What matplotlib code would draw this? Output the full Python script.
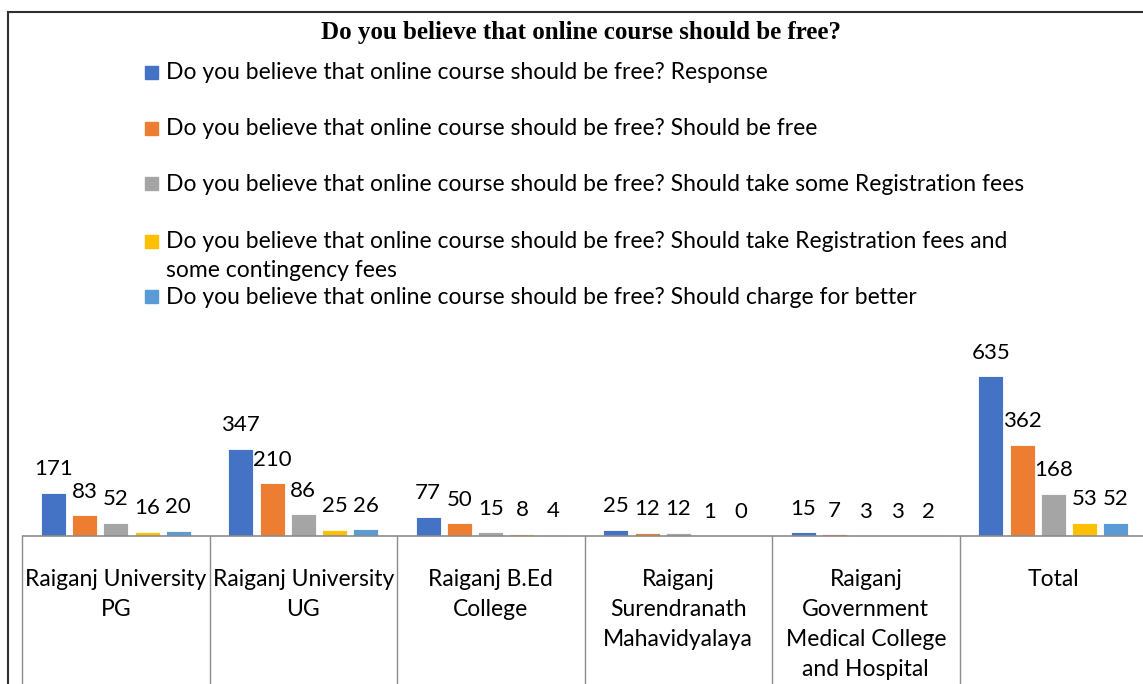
import matplotlib
matplotlib.use('Agg')
import matplotlib.pyplot as plt
import matplotlib.patches as mpatches
import matplotlib.transforms as mtransforms
import numpy as np

# Data
categories = [
    'Raiganj University\nPG',
    'Raiganj University\nUG',
    'Raiganj B.Ed\nCollege',
    'Raiganj\nSurendranath\nMahavidyalaya',
    'Raiganj\nGovernment\nMedical College\nand Hospital',
    'Total',
]
series_names = [
    'Do you believe that online course should be free? Response',
    'Do you believe that online course should be free? Should be free',
    'Do you believe that online course should be free? Should take some Registration fees',
    'Do you believe that online course should be free? Should take Registration fees and\nsome contingency fees',
    'Do you believe that online course should be free? Should charge for better',
]
response = [171, 347, 77, 25, 15, 635]
should_be_free = [83, 210, 50, 12, 7, 362]
some_reg_fees = [52, 86, 15, 12, 3, 168]
reg_and_contingency = [16, 25, 8, 1, 3, 53]
charge_for_better = [20, 26, 4, 0, 2, 52]
series = [response, should_be_free, some_reg_fees, reg_and_contingency, charge_for_better]
colors = ['#4472C4', '#ED7D31', '#A5A5A5', '#FFC000', '#5B9BD5']
title = 'Do you believe that online course should be free?'

W, H = 1143, 684
BODY_FONT = 'Lato'
FS = 16.5
LABEL_FS = 16


def fx(px):
    return px / W


def fy(py):
    return 1 - py / H


fig = plt.figure(figsize=(W / 100, H / 100), dpi=100)

# plot area: axis line at y=536, categories start at x=22, each 187.5 px wide
ax_left, ax_right = 22, 22 + 187.5 * len(categories)
ax_bottom, ax_top = 536, 336
ax = fig.add_axes([fx(ax_left), fy(ax_bottom), fx(ax_right - ax_left),
                   (ax_bottom - ax_top) / H])
ymax = (ax_bottom - ax_top) / 0.2515
ax.set_xlim(-0.5, len(categories) - 0.5)
ax.set_ylim(0, ymax)
ax.axis('off')

x = np.arange(len(categories))
bar_w = 25 / 187.5
for j, (vals, c) in enumerate(zip(series, colors)):
    xs = x + (j - 2) / 6
    ax.bar(xs, vals, width=bar_w, color=c, edgecolor='white', linewidth=0.6,
           clip_on=False)
    for xi, v in zip(xs, vals):
        ax.annotate(str(v), (xi, v), xytext=(0, 17.5), textcoords='offset pixels',
                    ha='center', va='baseline', fontsize=LABEL_FS, family=BODY_FONT,
                    color='#000000', annotation_clip=False)

# horizontal axis and category separators
ax.plot([-0.5, len(categories) - 0.5], [0, 0], color='#8c8c8c', lw=1.2,
        clip_on=False, solid_capstyle='butt')
for b in np.arange(-0.5, len(categories), 1.0):
    ax.plot([b, b], [0, -800], color='#8c8c8c', lw=1.0, clip_on=False)

# category labels, lines 30 px apart
trans = mtransforms.blended_transform_factory(ax.transData, fig.transFigure)
for i, cat in enumerate(categories):
    for k, line in enumerate(cat.split('\n')):
        ax.text(i, fy(586 + 30 * k), line, transform=trans, ha='center',
                va='baseline', fontsize=FS, family=BODY_FONT, clip_on=False)

# title
fig.text(fx(581), fy(32), title, ha='center', va='center', fontsize=18,
         fontweight='bold', family='Liberation Serif')

# legend
legend_rows = [72, 128, 184, 241, 297]
for name, c, yr in zip(series_names, colors, legend_rows):
    fig.patches.append(mpatches.Rectangle((fx(145), fy(yr + 6.5)), fx(13), 13 / H,
                                          transform=fig.transFigure, color=c))
    for k, line in enumerate(name.split('\n')):
        fig.text(fx(166), fy(yr + 7 + 29 * k), line, ha='left', va='baseline',
                 fontsize=FS, family=BODY_FONT)

# chart frame
fig.patches.append(mpatches.Rectangle((fx(8), -0.1), fx(1160), fy(12) + 0.1,
                                      transform=fig.transFigure, fill=False,
                                      edgecolor='#303030', lw=1.5))

fig.savefig('out.png', dpi=100)
